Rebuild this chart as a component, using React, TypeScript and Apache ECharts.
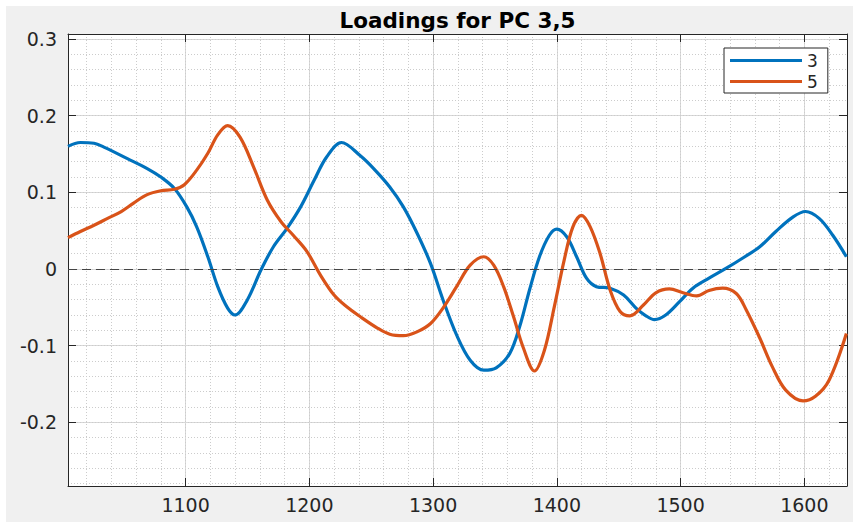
import React, { useEffect, useRef } from "react";
import * as echarts from "echarts";

// Wavenumber positions and loadings
const pc3X = [1005, 1015, 1026, 1034, 1053, 1069, 1080, 1091, 1101, 1109, 1118, 1126, 1134, 1140, 1150, 1161, 1171, 1182, 1193, 1204, 1214, 1226, 1241, 1252, 1265, 1276, 1287, 1298, 1308, 1319, 1330, 1341, 1351, 1362, 1370, 1378, 1386, 1394, 1400, 1408, 1416, 1424, 1432, 1443, 1454, 1464, 1472, 1479, 1488, 1499, 1510, 1523, 1537, 1550, 1564, 1577, 1591, 1601, 1612, 1623, 1634];
const pc3Y = [0.160, 0.165, 0.164, 0.159, 0.144, 0.131, 0.120, 0.105, 0.081, 0.055, 0.016, -0.023, -0.051, -0.060, -0.040, -0.001, 0.029, 0.053, 0.081, 0.116, 0.146, 0.165, 0.148, 0.131, 0.107, 0.081, 0.047, 0.007, -0.040, -0.086, -0.119, -0.132, -0.129, -0.110, -0.075, -0.027, 0.016, 0.044, 0.052, 0.042, 0.016, -0.012, -0.023, -0.025, -0.034, -0.051, -0.061, -0.066, -0.060, -0.043, -0.025, -0.012, 0.001, 0.014, 0.029, 0.049, 0.068, 0.075, 0.066, 0.044, 0.016];

const pc5X = [1005, 1015, 1026, 1037, 1048, 1058, 1069, 1080, 1091, 1099, 1109, 1118, 1126, 1134, 1144, 1155, 1166, 1177, 1187, 1198, 1209, 1220, 1230, 1241, 1255, 1265, 1276, 1287, 1298, 1308, 1319, 1330, 1341, 1349, 1357, 1365, 1373, 1382, 1390, 1398, 1406, 1413, 1420, 1427, 1435, 1443, 1451, 1459, 1470, 1480, 1491, 1502, 1513, 1523, 1534, 1545, 1553, 1564, 1574, 1585, 1599, 1609, 1620, 1634];
const pc5Y = [0.041, 0.049, 0.057, 0.066, 0.075, 0.086, 0.097, 0.102, 0.104, 0.110, 0.129, 0.151, 0.175, 0.187, 0.172, 0.133, 0.090, 0.062, 0.044, 0.023, -0.008, -0.034, -0.049, -0.062, -0.077, -0.085, -0.087, -0.082, -0.071, -0.051, -0.023, 0.005, 0.016, 0.005, -0.023, -0.062, -0.103, -0.133, -0.106, -0.049, 0.012, 0.055, 0.070, 0.055, 0.020, -0.027, -0.055, -0.061, -0.047, -0.031, -0.026, -0.031, -0.035, -0.028, -0.025, -0.032, -0.053, -0.090, -0.127, -0.158, -0.172, -0.166, -0.145, -0.084];

const seriesNames = ["3", "5"];
const seriesColors = ["#0072BD", "#D95319"];
const xRange = [1005, 1634.5];
const yRange = [-0.283, 0.3065];

const FONT = "'DejaVu Sans', Verdana, sans-serif";
const TXT = "#262626";

export default function App() {
  const ref = useRef<HTMLDivElement>(null);
  useEffect(() => {
    if (!ref.current) return;
    const chart = echarts.init(ref.current, undefined, { renderer: "svg" });
    const pair = (xs: number[], ys: number[]) => xs.map((x, i) => [x, ys[i]]);
    const xLab = (v: number) => (Math.abs(v % 100) < 1e-6 ? String(v) : "");
    const yLab = (v: number) => {
      const t = Math.round(v * 10);
      return Math.abs(t - v * 10) < 1e-6 ? String(t / 10) : "";
    };
    const gridLeft = 62, gridTop = 28, gridW = 779, gridH = 452;
    chart.setOption({
      animation: false,
      backgroundColor: "#f0f0f0",
      title: {
        text: "Loadings for PC 3,5",
        left: gridLeft + gridW / 2,
        textAlign: "center",
        top: 3,
        padding: 0,
        textStyle: { fontFamily: FONT, fontSize: 21.5, fontWeight: "bold", color: "#000" },
      },
      legend: {
        orient: "vertical",
        left: 718,
        top: 42,
        padding: [3, 10, 2, 6],
        itemGap: 2,
        itemWidth: 72,
        itemHeight: 3,
        icon: "rect",
        backgroundColor: "#fff",
        borderColor: "#262626",
        borderWidth: 1,
        borderRadius: 0,
        textStyle: { fontFamily: FONT, fontSize: 17, color: TXT, lineHeight: 19 },
        data: seriesNames,
      },
      grid: {
        left: gridLeft,
        top: gridTop,
        width: gridW,
        height: gridH,
        show: true,
        backgroundColor: "#ffffff",
        borderWidth: 0,
      },
      xAxis: [
        {
          type: "value",
          position: "bottom",
          min: xRange[0],
          max: xRange[1],
          splitNumber: 5,
          axisLine: { show: true, onZero: false, lineStyle: { color: TXT, width: 1 } },
          axisTick: { show: true, inside: true, length: 8, lineStyle: { color: TXT } },
          axisLabel: { formatter: xLab, margin: 9, fontFamily: FONT, fontSize: 19, color: TXT },
          splitLine: { show: true, lineStyle: { color: "#d8d8d8", width: 1 } },
        },
        {
          type: "value",
          position: "top",
          min: xRange[0],
          max: xRange[1],
          splitNumber: 5,
          axisLine: { show: true, onZero: false, lineStyle: { color: TXT, width: 1 } },
          axisTick: { show: true, inside: true, length: 8, lineStyle: { color: TXT } },
          axisLabel: { show: false },
          splitLine: { show: false },
        },
        {
          type: "value",
          position: "bottom",
          min: xRange[0],
          max: xRange[1],
          splitNumber: 30,
          axisLine: { show: false },
          axisTick: { show: false },
          axisLabel: { show: false },
          splitLine: { show: true, lineStyle: { color: "#cccccc", width: 1, type: [1, 2] } },
        },
      ],
      yAxis: [
        {
          type: "value",
          position: "left",
          min: yRange[0],
          max: yRange[1],
          splitNumber: 5,
          axisLine: { show: true, onZero: false, lineStyle: { color: TXT, width: 1 } },
          axisTick: { show: true, inside: true, length: 8, lineStyle: { color: TXT } },
          axisLabel: { formatter: yLab, margin: 11, fontFamily: FONT, fontSize: 19, color: TXT },
          splitLine: { show: true, lineStyle: { color: "#d8d8d8", width: 1 } },
        },
        {
          type: "value",
          position: "right",
          min: yRange[0],
          max: yRange[1],
          splitNumber: 5,
          axisLine: { show: true, onZero: false, lineStyle: { color: TXT, width: 1 } },
          axisTick: { show: true, inside: true, length: 8, lineStyle: { color: TXT } },
          axisLabel: { show: false },
          splitLine: { show: false },
        },
        {
          type: "value",
          position: "left",
          min: yRange[0],
          max: yRange[1],
          splitNumber: 30,
          axisLine: { show: false },
          axisTick: { show: false },
          axisLabel: { show: false },
          splitLine: { show: true, lineStyle: { color: "#cccccc", width: 1, type: [1, 2] } },
        },
      ],
      series: [
        {
          name: seriesNames[0],
          type: "line",
          xAxisIndex: 0,
          yAxisIndex: 0,
          data: pair(pc3X, pc3Y),
          smooth: 0.35,
          showSymbol: false,
          symbol: "none",
          lineStyle: { color: seriesColors[0], width: 3.2 },
          itemStyle: { color: seriesColors[0] },
          z: 3,
          markLine: {
            silent: true,
            symbol: "none",
            label: { show: false },
            lineStyle: { color: "#444", width: 1, type: [9, 5] },
            data: [{ yAxis: 0 }],
          },
        },
        {
          name: seriesNames[1],
          type: "line",
          xAxisIndex: 0,
          yAxisIndex: 0,
          data: pair(pc5X, pc5Y),
          smooth: 0.35,
          showSymbol: false,
          symbol: "none",
          lineStyle: { color: seriesColors[1], width: 3.2 },
          itemStyle: { color: seriesColors[1] },
          z: 4,
        },
      ],
    });
    return () => chart.dispose();
  }, []);
  return (
    <div style={{ position: "fixed", left: 0, top: 0, width: 853, height: 522, background: "#fff" }}>
      <div ref={ref} style={{ position: "absolute", left: 6, top: 6, width: 847, height: 516 }} />
    </div>
  );
}
